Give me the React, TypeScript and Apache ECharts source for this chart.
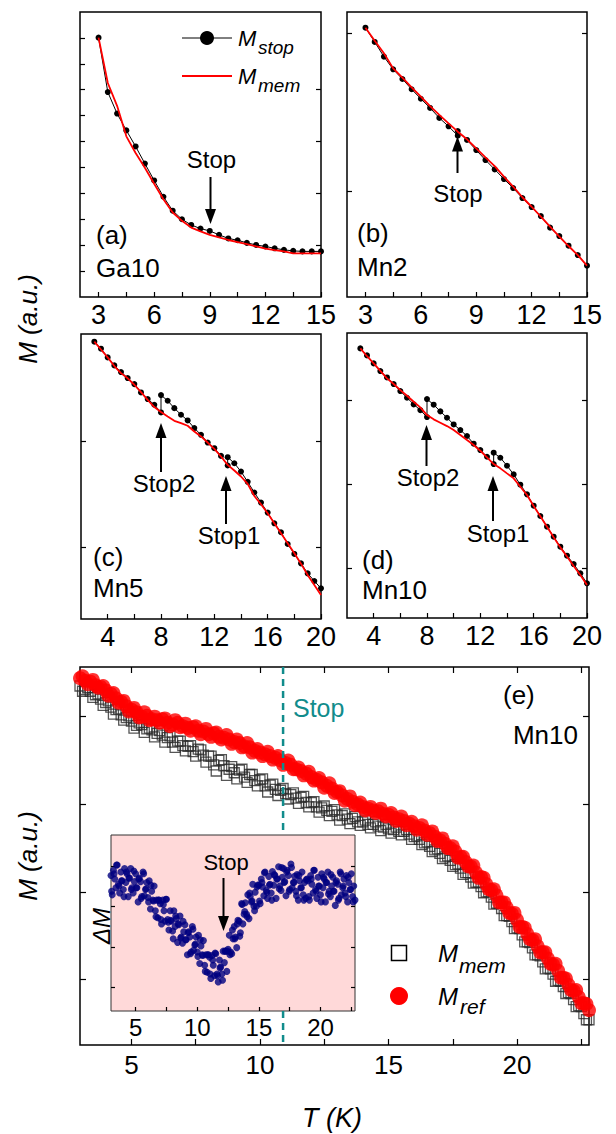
import React, { useEffect, useRef } from "react";
import * as echarts from "echarts";

const FONT = "'Liberation Sans', Arial, Helvetica, sans-serif";
const RED = "#ff0000";
const TEAL = "#118c8c";
const NAVY = "#000080";

const steps = (a: number, b: number, s: number) => {
  const out: number[] = [];
  const n = Math.round((b - a) / s);
  for (let i = 0; i <= n; i++) out.push(+(a + i * s).toFixed(2));
  return out;
};
const zip = (xs: number[], ys: number[]) => xs.map((x, i) => [x, ys[i]]);

// ---------- (a) Ga10 ----------
const aT = steps(3, 15, 0.5);
const aStop = [10.01, 7.91, 7.08, 6.43, 5.81, 5.15, 4.5, 3.87, 3.33, 3.0, 2.78, 2.64, 2.55, 2.4, 2.26, 2.19, 2.09, 2.01, 1.95, 1.88, 1.82, 1.78, 1.76, 1.76, 1.76];
const aMem = [10.01, 8.26, 7.38, 6.2, 5.56, 4.99, 4.37, 3.77, 3.26, 2.94, 2.68, 2.53, 2.4, 2.3, 2.2, 2.12, 2.04, 1.95, 1.87, 1.81, 1.76, 1.68, 1.68, 1.68, 1.68];

// ---------- (b) Mn2 ----------
const bStopT = [3, 3.5, 4, 4.5, 5, 5.5, 6, 6.5, 7, 7.5, 8, 8, 8.5, 9, 9.5, 10, 10.5, 11, 11.5, 12, 12.5, 13, 13.5, 14, 14.5, 15];
const bStop = [2.036, 1.946, 1.853, 1.773, 1.712, 1.647, 1.587, 1.529, 1.466, 1.413, 1.354, 1.383, 1.327, 1.263, 1.2, 1.141, 1.08, 1.023, 0.96, 0.903, 0.846, 0.773, 0.72, 0.659, 0.6, 0.533];
const bMemT = steps(3, 15, 0.5);
const bMem = [2.036, 1.954, 1.874, 1.779, 1.72, 1.659, 1.6, 1.541, 1.485, 1.432, 1.379, 1.331, 1.274, 1.217, 1.162, 1.095, 1.032, 0.965, 0.905, 0.842, 0.779, 0.716, 0.657, 0.6, 0.533];

// ---------- (c) Mn5, (d) Mn10 ----------
const cdStopT = [3, 3.5, 4, 4.5, 5, 5.5, 6, 6.5, 7, 7.5, 8, 8, 8.5, 9, 9.5, 10, 10.5, 11, 11.5, 12, 12.5, 13, 13, 13.5, 14, 14.5, 15, 15.5, 16, 16.5, 17, 17.5, 18, 18.5, 19, 19.5, 20];
const cdMemT = steps(3, 20, 0.5);
const cStop = [2.928, 2.8625, 2.781, 2.706, 2.644, 2.5875, 2.531, 2.453, 2.391, 2.3375, 2.266, 2.428, 2.375, 2.306, 2.244, 2.191, 2.119, 2.056, 1.984, 1.931, 1.859, 1.769, 1.847, 1.79, 1.7125, 1.616, 1.516, 1.422, 1.328, 1.228, 1.144, 1.034, 0.941, 0.853, 0.759, 0.6875, 0.619];
const cMem = [2.928, 2.855, 2.781, 2.7, 2.634, 2.585, 2.525, 2.455, 2.384, 2.316, 2.269, 2.228, 2.1875, 2.166, 2.141, 2.0875, 2.041, 1.984, 1.925, 1.853, 1.775, 1.722, 1.666, 1.597, 1.484, 1.406, 1.322, 1.228, 1.134, 1.04, 0.947, 0.85, 0.744, 0.65, 0.556];
const dStop = [3.613, 3.53, 3.435, 3.344, 3.268, 3.189, 3.106, 3.027, 2.948, 2.88, 2.797, 3.011, 2.944, 2.865, 2.789, 2.71, 2.643, 2.572, 2.481, 2.405, 2.326, 2.239, 2.374, 2.314, 2.219, 2.116, 1.994, 1.879, 1.744, 1.622, 1.495, 1.376, 1.257, 1.15, 1.051, 0.941, 0.822];
const dMem = [3.613, 3.52, 3.435, 3.345, 3.257, 3.19, 3.118, 3.05, 2.979, 2.912, 2.821, 2.77, 2.73, 2.69, 2.643, 2.584, 2.524, 2.465, 2.397, 2.318, 2.239, 2.188, 2.128, 2.069, 1.97, 1.871, 1.74, 1.62, 1.495, 1.37, 1.249, 1.14, 1.028, 0.92, 0.802];

// ---------- (e) Mn10 main ----------
const eT = steps(3, 22.8, 0.2);
const eRef = [
  4.44, 4.41, 4.4, 4.36, 4.34, 4.3, 4.26, 4.21, 4.17, 4.12,
  4.08, 4.05, 4.0, 4.01, 3.97, 3.96, 3.97, 3.93, 3.91, 3.93,
  3.89, 3.87, 3.88, 3.84, 3.83, 3.8, 3.81, 3.77, 3.76, 3.74,
  3.71, 3.7, 3.66, 3.65, 3.61, 3.59, 3.57, 3.55, 3.53, 3.5,
  3.47, 3.45, 3.4, 3.38, 3.35, 3.31, 3.28, 3.25, 3.21, 3.18,
  3.14, 3.1, 3.06, 3.03, 3.0, 2.97, 2.95, 2.93, 2.92, 2.89,
  2.88, 2.85, 2.83, 2.81, 2.78, 2.75, 2.73, 2.7, 2.67, 2.63,
  2.59, 2.55, 2.5, 2.46, 2.4, 2.34, 2.29, 2.22, 2.17, 2.09,
  2.02, 1.96, 1.88, 1.82, 1.75, 1.68, 1.6, 1.52, 1.45, 1.38,
  1.31, 1.24, 1.17, 1.1, 1.02, 0.94, 0.87, 0.8, 0.73, 0.65,
];
const eMem = [
  4.35, 4.31, 4.29, 4.25, 4.2, 4.16, 4.11, 4.08, 4.02, 3.99,
  3.95, 3.9, 3.91, 3.86, 3.85, 3.81, 3.79, 3.76, 3.71, 3.72,
  3.67, 3.66, 3.6, 3.63, 3.56, 3.55, 3.45, 3.5, 3.44, 3.4,
  3.36, 3.39, 3.31, 3.34, 3.27, 3.28, 3.21, 3.22, 3.17, 3.16,
  3.12, 3.11, 3.07, 3.08, 3.02, 3.02, 2.97, 2.96, 2.93, 2.92,
  2.88, 2.87, 2.83, 2.84, 2.8, 2.8, 2.77, 2.77, 2.75, 2.74,
  2.72, 2.71, 2.69, 2.69, 2.66, 2.63, 2.6, 2.56, 2.52, 2.48,
  2.44, 2.4, 2.36, 2.31, 2.27, 2.22, 2.17, 2.11, 2.06, 2.0,
  1.94, 1.87, 1.81, 1.73, 1.66, 1.59, 1.51, 1.43, 1.36, 1.28,
  1.2, 1.13, 1.06, 0.99, 0.92, 0.85, 0.77, 0.7, 0.61, 0.54,
];
const eT2 = steps(3.1, 22.7, 0.2);
const eRef2 = [
  4.46, 4.37, 4.42, 4.33, 4.35, 4.24, 4.27, 4.16, 4.18, 4.06,
  4.1, 3.99, 4.05, 3.96, 4.0, 3.93, 3.98, 3.89, 3.96, 3.88,
  3.92, 3.84, 3.89, 3.8, 3.86, 3.77, 3.82, 3.74, 3.79, 3.69,
  3.74, 3.65, 3.7, 3.59, 3.63, 3.55, 3.6, 3.51, 3.55, 3.45,
  3.5, 3.4, 3.42, 3.33, 3.37, 3.27, 3.3, 3.19, 3.24, 3.13,
  3.15, 3.04, 3.09, 2.99, 3.02, 2.93, 2.97, 2.9, 2.95, 2.86,
  2.9, 2.81, 2.86, 2.76, 2.8, 2.71, 2.76, 2.65, 2.69, 2.58,
  2.61, 2.5, 2.52, 2.39, 2.4, 2.29, 2.3, 2.16, 2.16, 2.03,
  2.03, 1.88, 1.88, 1.76, 1.76, 1.6, 1.59, 1.46, 1.46, 1.31,
  1.31, 1.18, 1.18, 1.02, 1.01, 0.88, 0.88, 0.73, 0.72,
];
const eMem2 = [
  4.29, 4.33, 4.22, 4.26, 4.13, 4.18, 4.03, 4.09, 3.96, 4.01,
  3.87, 3.93, 3.82, 3.87, 3.77, 3.84, 3.71, 3.78, 3.65, 3.72,
  3.61, 3.67, 3.55, 3.62, 3.48, 3.55, 3.38, 3.51, 3.33, 3.43,
  3.29, 3.4, 3.25, 3.34, 3.21, 3.29, 3.14, 3.23, 3.1, 3.18,
  3.06, 3.13, 3.01, 3.09, 2.97, 3.03, 2.91, 2.98, 2.87, 2.94,
  2.82, 2.89, 2.78, 2.86, 2.76, 2.82, 2.73, 2.8, 2.7, 2.77,
  2.67, 2.74, 2.65, 2.71, 2.6, 2.64, 2.54, 2.57, 2.46, 2.49,
  2.38, 2.41, 2.29, 2.32, 2.2, 2.22, 2.1, 2.11, 1.99, 2.0,
  1.86, 1.87, 1.73, 1.72, 1.58, 1.58, 1.43, 1.42, 1.28, 1.27,
  1.12, 1.12, 0.98, 0.98, 0.84, 0.84, 0.69, 0.69, 0.54,
];
const stopLineT = 10.9;

// ---------- inset: delta M ----------
const insetT = steps(3, 22.8, 0.1);
const insetDM = [
  7.7, 6.6, 8.0, 7.5, 7.0, 8.3, 7.2, 6.7, 7.9, 7.4,
  6.9, 8.1, 7.3, 7.8, 6.5, 7.55, 8.1, 7.0, 6.7, 7.35,
  7.8, 7.0, 6.2, 7.55, 7.35, 6.5, 7.9, 6.55, 6.9, 7.3,
  6.45, 7.4, 5.8, 6.8, 6.3, 7.1, 5.7, 6.3, 5.3, 6.3,
  6.1, 4.95, 6.3, 5.7, 5.1, 6.35, 5.2, 4.6, 5.7, 5.1,
  4.55, 5.7, 4.8, 5.25, 3.9, 4.9, 5.4, 4.2, 3.85, 4.5,
  4.9, 4.05, 3.2, 4.5, 4.2, 3.35, 4.8, 3.45, 3.75, 4.2,
  3.35, 4.3, 2.7, 3.7, 3.2, 4.0, 2.6, 3.2, 2.2, 3.2,
  3.05, 1.85, 3.15, 2.6, 2.0, 3.25, 2.1, 1.65, 2.9, 2.5,
  2.1, 3.4, 2.75, 3.4, 2.25, 3.5, 4.3, 3.35, 3.25, 4.1,
  4.8, 4.2, 3.6, 5.15, 5.1, 4.45, 6.1, 4.95, 5.5, 6.15,
  5.5, 6.6, 5.25, 6.5, 6.2, 7.2, 5.95, 6.75, 5.95, 7.15,
  7.15, 6.1, 7.5, 7.05, 6.55, 7.9, 6.85, 6.4, 7.65, 7.2,
  6.7, 7.93, 7.15, 7.7, 6.4, 7.5, 8.2, 7.1, 6.85, 7.6,
  8.1, 7.35, 6.55, 8.0, 7.7, 6.9, 8.35, 7.0, 7.3, 7.65,
  6.8, 7.75, 6.3, 7.4, 7.0, 7.9, 6.6, 7.3, 6.4, 7.5,
  7.4, 6.3, 7.7, 7.2, 6.7, 8.0, 6.9, 6.4, 7.6, 7.1,
  6.6, 7.8, 7.0, 7.5, 6.2, 7.3, 7.9, 6.8, 6.5, 7.1,
  7.6, 6.8, 6.0, 7.4, 7.2, 6.4, 7.9, 6.6, 7.0, 7.5,
  6.7, 7.7, 6.2, 7.3, 6.9, 7.8, 6.5, 7.1, 6.3,
];
const insetT2 = steps(3.05, 22.65, 0.2);
const insetDM2 = [
  6.8, 7.8, 8.3, 7.1, 7.4, 6.5, 7.9, 7.56, 6.9, 7.95,
  7.0, 7.5, 6.4, 7.8, 6.95, 6.2, 7.15, 6.25, 5.35, 6.3,
  5.2, 6.05, 6.35, 5.05, 5.15, 4.1, 5.4, 4.95, 4.15, 5.1,
  4.05, 4.45, 3.25, 4.65, 3.8, 3.1, 4.05, 3.15, 2.25, 3.2,
  2.1, 2.9, 3.3, 2.0, 2.45, 1.75, 3.4, 3.4, 3.2, 4.6,
  4.1, 4.95, 4.25, 6.05, 5.65, 5.35, 6.7, 6.25, 5.7, 7.05,
  6.25, 7.3, 7.85, 6.75, 7.15, 6.3, 7.75, 7.5, 6.95, 8.15,
  7.3, 7.9, 6.8, 8.15, 7.3, 6.55, 7.7, 7.0, 6.3, 7.45,
  6.5, 7.5, 8.0, 6.8, 7.1, 6.2, 7.6, 7.3, 6.65, 7.75,
  6.8, 7.3, 6.3, 7.8, 7.1, 6.5, 7.6, 6.9, 6.2,
];

// ---------- ticks ----------
const abXTicks = [3, 4.5, 6, 7.5, 9, 10.5, 12, 13.5, 15];
const abXLabels = [3, 6, 9, 12, 15];
const cdXTicks = [4, 6, 8, 10, 12, 14, 16, 18, 20];
const cdXLabels = [4, 8, 12, 16, 20];
const eXTicks = [5, 7.5, 10, 12.5, 15, 17.5, 20, 22.5];
const eXLabels = [5, 10, 15, 20];
const aYTicksL = [1, 2, 3, 4, 5, 6, 7, 8, 9, 10];
const aYTicksR = [2, 4, 6, 8];
const bYTicks = [1, 2];
const cYTicks = [1, 2];
const dYTicks = [1, 2, 3];
const eYTicks = [1, 2, 3, 4];
const insetYTicks = [1.35, 3.65, 5.95, 8.25];

const xA = (gi: number, min: number, max: number, ticks: number[], labels: number[], fs: number, margin: number, pos = "bottom", len = 5) => ({
  type: "value", gridIndex: gi, min, max, position: pos,
  axisLine: { show: false }, splitLine: { show: false },
  axisTick: { show: true, inside: true, length: len, customValues: ticks, lineStyle: { color: "#000", width: 1.2 } },
  axisLabel: { show: labels.length > 0, customValues: labels, fontSize: fs, fontFamily: FONT, color: "#000", margin },
});
const yA = (gi: number, min: number, max: number, ticks: number[], pos: string, len = 5) => ({
  type: "value", gridIndex: gi, min, max, position: pos,
  axisLine: { show: false }, splitLine: { show: false },
  axisTick: { show: true, inside: true, length: len, customValues: ticks, lineStyle: { color: "#000", width: 1.2 } },
  axisLabel: { show: false },
});

const txt = (x: number, y: number, text: string, fs: number, o: any = {}) => ({
  type: "text", x, y, rotation: o.rot || 0, silent: true, z: 100,
  style: {
    text, fontSize: fs, fontFamily: FONT, fill: o.fill || "#000",
    fontStyle: o.italic ? "italic" : "normal",
    align: o.align || "left", verticalAlign: "middle",
    textAlign: o.align || "left", textVerticalAlign: "middle",
  },
});
const arrow = (x: number, tail: number, tip: number) => {
  const dir = tip > tail ? 1 : -1;
  const hl = 15, hw = 5.5;
  return [
    { type: "line", silent: true, z: 100, shape: { x1: x, y1: tail, x2: x, y2: tip - dir * hl * 0.7 }, style: { stroke: "#000", lineWidth: 2 } },
    { type: "polygon", silent: true, z: 100, shape: { points: [[x - hw, tip - dir * hl], [x + hw, tip - dir * hl], [x, tip]] }, style: { fill: "#000" } },
  ];
};

function buildOption() {
  const frame = { show: true, borderColor: "#000", borderWidth: 1.5, containLabel: false };
  const grid = [
    { ...frame, left: 80, top: 12, width: 241, height: 285 },
    { ...frame, left: 347, top: 12, width: 240, height: 285 },
    { ...frame, left: 81, top: 334, width: 240, height: 285 },
    { ...frame, left: 347, top: 333, width: 240, height: 285 },
    { ...frame, left: 80, top: 667, width: 509, height: 378 },
    { show: true, left: 111, top: 835, width: 244, height: 176, backgroundColor: "#ffd9d9", borderColor: "#333", borderWidth: 1 },
  ];
  const xAxis = [
    xA(0, 2, 15, abXTicks, abXLabels, 27, 4),
    xA(1, 2, 15, abXTicks, abXLabels, 27, 4),
    xA(2, 2, 20, cdXTicks, cdXLabels, 27, 4),
    xA(3, 2, 20, cdXTicks, cdXLabels, 27, 4),
    xA(4, 3, 22.8, eXTicks, eXLabels, 26, 7, "bottom", 6),
    xA(4, 3, 22.8, eXTicks, [], 26, 7, "top", 6),
    xA(5, 3, 22.8, eXTicks, eXLabels, 24, 4, "bottom", 4),
  ];
  const yAxis = [
    yA(0, 0, 11, aYTicksL, "left"), yA(0, 0, 11, aYTicksR, "right"),
    yA(1, 0.335, 2.135, bYTicks, "left"), yA(1, 0.335, 2.135, bYTicks, "right"),
    yA(2, 0.332, 3.0, cYTicks, "left"), yA(2, 0.332, 3.0, cYTicks, "right"),
    yA(3, 0.41, 3.796, dYTicks, "left"), yA(3, 0.41, 3.796, dYTicks, "right"),
    yA(4, 0.252, 4.567, eYTicks, "left", 6), yA(4, 0.252, 4.567, eYTicks, "right", 6),
    yA(5, 0, 10, insetYTicks, "left", 4), yA(5, 0, 10, insetYTicks, "right", 4),
  ];
  const stopLine = (xi: number, yi: number, t: number[], v: number[]) => ({
    type: "line", xAxisIndex: xi, yAxisIndex: yi, data: zip(t, v), symbol: "circle", symbolSize: 6,
    itemStyle: { color: "#000" }, lineStyle: { color: "#000", width: 1 }, z: 3,
  });
  const memLine = (xi: number, yi: number, t: number[], v: number[]) => ({
    type: "line", xAxisIndex: xi, yAxisIndex: yi, data: zip(t, v), symbol: "none",
    lineStyle: { color: RED, width: 1.8 }, z: 4,
  });
  const memSq = (t: number[], v: number[]) => ({
    type: "scatter", xAxisIndex: 4, yAxisIndex: 8, data: zip(t, v), symbol: "rect", symbolSize: 10,
    itemStyle: { color: "rgba(0,0,0,0)", borderColor: "#2a2a2a", borderWidth: 1.3 }, z: 3,
  });
  const refDot = (t: number[], v: number[]) => ({
    type: "scatter", xAxisIndex: 4, yAxisIndex: 8, data: zip(t, v), symbol: "circle", symbolSize: 14,
    itemStyle: { color: RED }, z: 4,
  });
  const dmDot = (t: number[], v: number[]) => ({
    type: "scatter", xAxisIndex: 6, yAxisIndex: 10, data: zip(t, v), symbol: "circle", symbolSize: 7,
    itemStyle: { color: NAVY }, z: 6,
  });
  const series: any[] = [
    stopLine(0, 0, aT, aStop), memLine(0, 0, aT, aMem),
    stopLine(1, 2, bStopT, bStop), memLine(1, 2, bMemT, bMem),
    stopLine(2, 4, cdStopT, cStop), memLine(2, 4, cdMemT, cMem),
    stopLine(3, 6, cdStopT, dStop), memLine(3, 6, cdMemT, dMem),
    memSq(eT, eMem), memSq(eT2, eMem2),
    refDot(eT, eRef), refDot(eT2, eRef2),
    {
      type: "line", xAxisIndex: 4, yAxisIndex: 8, data: [[stopLineT, 4.567], [stopLineT, 2.653]], symbol: "none",
      lineStyle: { color: TEAL, width: 2.5, type: [7, 5] }, z: 5,
    },
    {
      type: "line", xAxisIndex: 4, yAxisIndex: 8, data: [[stopLineT, 0.64], [stopLineT, 0.252]], symbol: "none",
      lineStyle: { color: TEAL, width: 2.5, type: [7, 5] }, z: 5,
    },
    dmDot(insetT, insetDM), dmDot(insetT2, insetDM2),
  ];
  const elements: any[] = [
    txt(28, 319, "M (a.u.)", 26, { rot: Math.PI / 2, italic: true, align: "center" }),
    txt(28, 856, "M (a.u.)", 26, { rot: Math.PI / 2, italic: true, align: "center" }),
    txt(332, 1118, "T (K)", 27, { italic: true, align: "center" }),
    // (a)
    txt(211.5, 159, "Stop", 24, { align: "center" }),
    ...arrow(210.5, 177, 224),
    txt(96, 235, "(a)", 26), txt(96, 268, "Ga10", 26),
    { type: "line", silent: true, z: 100, shape: { x1: 182, y1: 38, x2: 232, y2: 38 }, style: { stroke: "#000", lineWidth: 1 } },
    { type: "circle", silent: true, z: 100, shape: { cx: 207, cy: 38, r: 7 }, style: { fill: "#000" } },
    txt(238, 38, "M", 22, { italic: true }), txt(258, 47, "stop", 19, { italic: true }),
    { type: "line", silent: true, z: 100, shape: { x1: 182, y1: 76, x2: 232, y2: 76 }, style: { stroke: RED, lineWidth: 2 } },
    txt(238, 76, "M", 22, { italic: true }), txt(258, 85, "mem", 19, { italic: true }),
    // (b)
    txt(458, 193, "Stop", 24, { align: "center" }),
    ...arrow(457.5, 173, 136.5),
    txt(357, 233, "(b)", 26), txt(357, 267, "Mn2", 26),
    // (c)
    txt(164, 483, "Stop2", 24, { align: "center" }),
    ...arrow(161, 472, 423),
    txt(229, 535, "Stop1", 24, { align: "center" }),
    ...arrow(226, 524, 476),
    txt(93, 557, "(c)", 26), txt(93, 588, "Mn5", 26),
    // (d)
    txt(428, 477, "Stop2", 24, { align: "center" }),
    ...arrow(426.5, 466, 425),
    txt(498, 533, "Stop1", 24, { align: "center" }),
    ...arrow(493, 521, 476),
    txt(362, 560, "(d)", 26), txt(362, 590, "Mn10", 26),
    // (e)
    txt(293, 708, "Stop", 25, { fill: TEAL }),
    txt(503, 695, "(e)", 26),
    txt(578, 735, "Mn10", 26, { align: "right" }),
    { type: "rect", silent: true, z: 100, shape: { x: 391.5, y: 945.5, width: 15, height: 15 }, style: { fill: "none", stroke: "#000", lineWidth: 1.5 } },
    txt(438, 953, "M", 24, { italic: true }), txt(459, 965, "mem", 21, { italic: true }),
    { type: "circle", silent: true, z: 100, shape: { cx: 399, cy: 996, r: 9 }, style: { fill: RED } },
    txt(438, 996, "M", 24, { italic: true }), txt(460, 1006, "ref", 21, { italic: true }),
    // inset
    txt(226, 862, "Stop", 22, { align: "center" }),
    ...arrow(223.5, 878, 931),
    txt(101, 926, "ΔM", 24, { rot: Math.PI / 2, italic: true, align: "center" }),
  ];
  return {
    animation: false,
    backgroundColor: "#ffffff",
    grid, xAxis, yAxis, series,
    graphic: { elements },
  };
}

export default function App() {
  const ref = useRef<HTMLDivElement>(null);
  useEffect(() => {
    document.body.style.margin = "0";
    if (!ref.current) return;
    const chart = echarts.init(ref.current, undefined, { renderer: "svg" });
    chart.setOption(buildOption() as any);
    return () => chart.dispose();
  }, []);
  return <div ref={ref} style={{ width: 616, height: 1134 }} />;
}
